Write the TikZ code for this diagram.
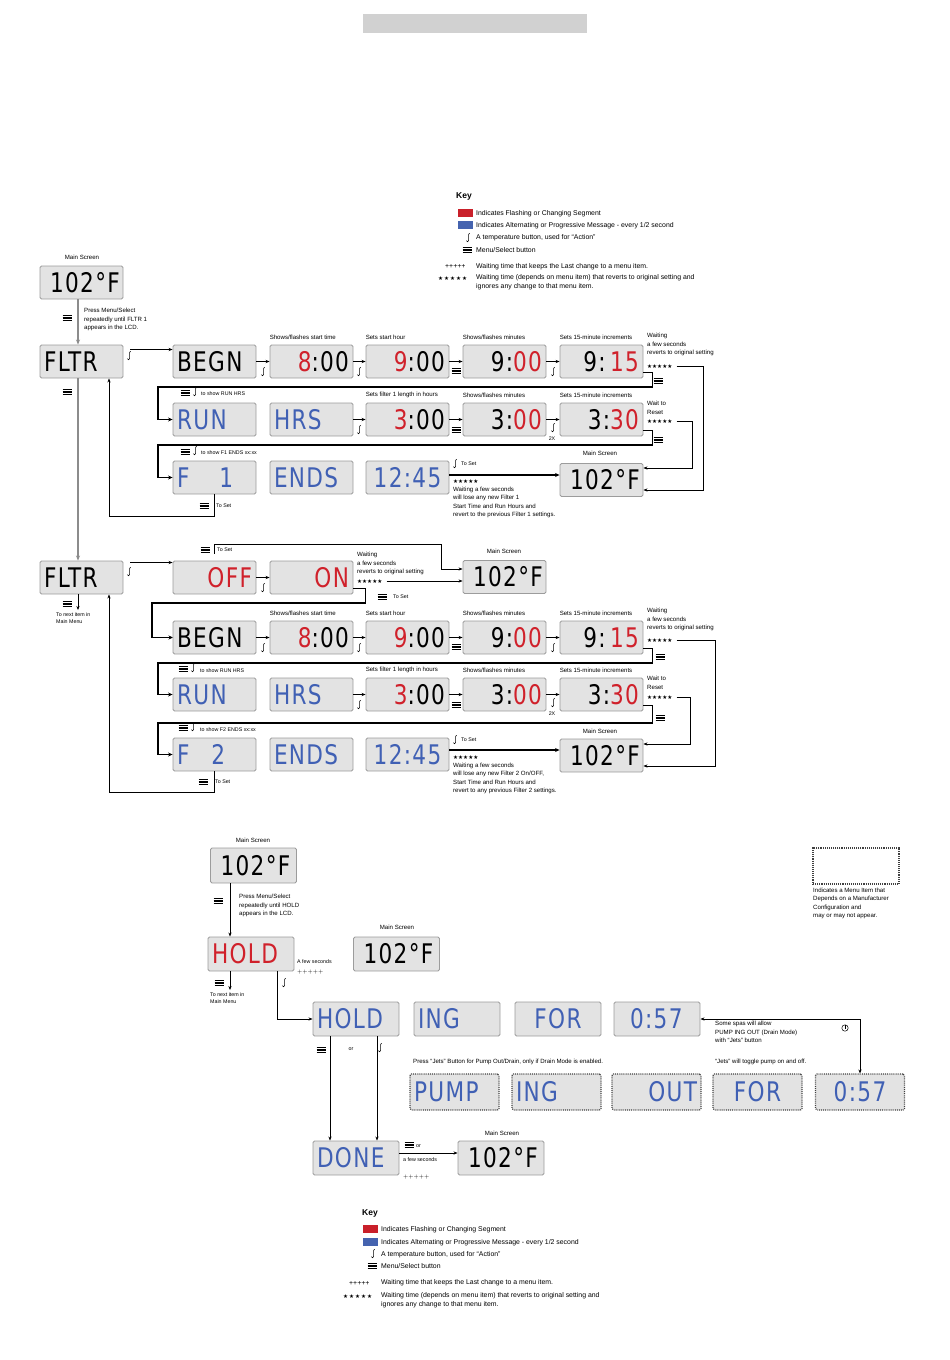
\documentclass[tikz,border=0pt]{standalone}
\usepackage{fontspec}
\usetikzlibrary{arrows.meta,calc}
\newfontfamily\tf{Liberation Sans}
\newfontfamily\symf{DejaVu Sans}
\newfontfamily\lcdf{DejaVu Sans}[LetterSpace=5, FakeStretch=0.8]
\definecolor{lred}{HTML}{D0212B}
\definecolor{lblue}{HTML}{4060B4}
\definecolor{lfill}{HTML}{E3E3E3}
\definecolor{ledge}{HTML}{9C9C9C}
\definecolor{kred}{HTML}{C9202A}
\definecolor{kblue}{HTML}{4563AF}
\newcommand\redseg[1]{\textcolor{lred}{#1}}
\newcommand\blueseg[1]{\textcolor{lblue}{#1}}
\newcommand\stars{{\symf ★★★★★}}
\newcommand\sstars{{\symf ★\,★\,★\,★\,★}}
\tikzset{
 lcd/.style={draw=ledge, fill=lfill, line width=0.9pt, rounded corners=1.5pt, minimum width=83pt, minimum height=33pt, inner sep=0pt, text width=75pt, font=\lcdf\fontsize{27}{27}\selectfont},
 lcdL/.style={lcd, align=left},
 lcdR/.style={lcd, align=right},
 lcdC/.style={lcd, align=center},
 hbox/.style={minimum width=86pt, minimum height=34pt, text width=78pt},
 dbox/.style={draw=black!75, densely dotted, line width=1.1pt, minimum width=89pt, minimum height=36pt, text width=81pt},
 lbl/.style={font=\tf\fontsize{6.1}{8.6}\selectfont, inner sep=0pt, align=left},
 slbl/.style={font=\tf\fontsize{5.3}{7}\selectfont, inner sep=0pt, align=left},
 ktxt/.style={font=\tf\fontsize{6.9}{9}\selectfont, inner sep=0pt, anchor=west, align=left},
 star/.style={font=\fontsize{5.6}{7}\selectfont, inner sep=0pt, anchor=west},
 arr/.style={-{Stealth[length=4pt,width=3.2pt]}, line width=0.6pt},
 rarr/.style={-{Stealth[length=4pt,width=3.2pt]}, line width=0.9pt},
 tarr/.style={-{Stealth[length=4.5pt,width=4pt]}, line width=1.8pt},
 garr/.style={-{Stealth[length=5pt,width=4pt]}, line width=1.6pt, draw=black!45, color=black!45},
 menuic/.pic={\foreach \yy in {-2.6,0,2.6}{\draw[line width=1.1pt] (-4.5,\yy) -- (4.5,\yy);}},
 tempic/.pic={\draw[line width=0.55pt] (1.8,-4.6) -- (0.6,-3.8) -- (0.6,2.6) arc[start angle=0,end angle=180,radius=1.1];},
 jetsic/.pic={\draw[line width=0.5pt] (0,0) circle (3.2); \draw[line width=0.5pt] (0,-3.2) -- (0,1);}
}
\begin{document}
\begin{tikzpicture}[x=1pt,y=-1pt]
\useasboundingbox (0,0) rectangle (950,1360);
\fill[black!18] (363,14) rectangle (587,33);

% ---------------- Key 1
\node[ktxt, font=\tf\bfseries\fontsize{8.5}{10}\selectfont] (key1) at (456,196) {Key};
\fill[kred] (458,209) rectangle (473,217);
\node[ktxt] (k1a) at (476,213.5) {Indicates Flashing or Changing Segment};
\fill[kblue] (458,221) rectangle (473,229);
\node[ktxt] (k1b) at (476,225.5) {Indicates Alternating or Progressive Message - every 1/2 second};
\pic at (468,238) {tempic};
\node[ktxt] (k1c) at (476,238) {A temperature button, used for “Action”};
\pic at (467,250) {menuic};
\node[ktxt] (k1d) at (476,250) {Menu/Select button};
\node[ktxt] (k1e) at (445,267) {+++++};
\node[ktxt] (k1f) at (476,267) {Waiting time that keeps the Last change to a menu item.};
\node[star] (k1g) at (438,278) {\sstars};
\node[ktxt, anchor=north west] (k1h) at (476,274) {Waiting time (depends on menu item) that reverts to original setting and\\ignores any change to that menu item.};

% ---------------- Filter 1
\node[lbl] (lms0) at (82,257) {Main Screen};
\node[lcdL] (main0) at (81.5,282.5) {\hspace*{6pt}102°F};
\node[lcdL] (fltr1) at (81.5,361.5) {FLTR};
\draw[garr] ($(main0.south)+(-3.5,0)$) -- ($(fltr1.north)+(-3.5,0)$);
\pic at (67,318) {menuic};
\node[lbl, anchor=north west] (pm1) at (84,308) {Press Menu/Select\\repeatedly until FLTR 1\\appears in the LCD.};
\pic at (129,356) {tempic};

\node[lcdL] (begn1) at (214.5,361.5) {BEGN};
\node[lcdR] (e1) at (311.5,361.5) {\redseg{8}:00\hspace*{9pt}};
\node[lcdR] (h1) at (407.5,361.5) {\redseg{9}:00\hspace*{9pt}};
\node[lcdR] (m1) at (504.5,361.5) {9:\redseg{00}\hspace*{9pt}};
\node[lcdR] (q1) at (601.5,361.5) {9:\,\redseg{15}\hspace*{9pt}};
\draw[arr] ($(fltr1.east)+(7,-12)$) -- ($(begn1.west)+(0,-12)$);
\draw[arr] (begn1.east) -- (e1.west);
\draw[arr] (e1.east) -- (h1.west);
\draw[arr] (h1.east) -- (m1.west);
\draw[arr] (m1.east) -- (q1.west);
\pic at (263,372) {tempic};
\pic at (359,372) {tempic};
\pic at (456,371) {menuic};
\pic at (553,372) {tempic};
\node[lbl, anchor=south west] at ($(e1.north west)+(0,-5)$) {Shows/flashes start time};
\node[lbl, anchor=south west] at ($(h1.north west)+(0,-5)$) {Sets start hour};
\node[lbl, anchor=south west] at ($(m1.north west)+(0,-5)$) {Shows/flashes minutes};
\node[lbl, anchor=south west] at ($(q1.north west)+(0,-5)$) {Sets 15-minute increments};
\node[lbl, anchor=north west] (w1) at (647,333) {Waiting\\a few seconds\\reverts to original setting};
\node[star] (st1) at (647,366) {\stars};

\node[lcdL] (run1) at (214.5,419.5) {\blueseg{RUN}};
\node[lcdL] (hrs1) at (311.5,419.5) {\blueseg{HRS}};
\node[lcdR] (l1) at (407.5,419.5) {\redseg{3}:00\hspace*{9pt}};
\node[lcdR] (lm1) at (504.5,419.5) {3:\redseg{00}\hspace*{9pt}};
\node[lcdR] (lq1) at (601.5,419.5) {3:\redseg{30}\hspace*{9pt}};
\draw[arr] (hrs1.east) -- (l1.west);
\draw[arr] (l1.east) -- (lm1.west);
\draw[arr] (lm1.east) -- (lq1.west);
\pic at (359,430) {tempic};
\pic at (456,430) {menuic};
\pic at (553,428) {tempic};
\node[slbl] at (552,439) {2X};
\node[lbl, anchor=south west] at ($(l1.north west)+(0,-5)$) {Sets filter 1 length in hours};
\node[lbl, anchor=south west] at ($(lm1.north west)+(0,-5)$) {Shows/flashes minutes};
\node[lbl, anchor=south west] at ($(lq1.north west)+(0,-5)$) {Sets 15-minute increments};
\node[lbl, anchor=north west] (w2) at (647,401) {Wait to\\Reset};
\node[star] (st2) at (647,421) {\stars};

\coordinate (jA) at (158,387);
\draw[tarr] ($(q1.east)+(0,11)$) -- ++(9,0) |- (jA) |- (run1.west);
\pic at (658,381) {menuic};
\pic at (185,393) {menuic};
\pic at (195,392) {tempic};
\node[slbl, anchor=west] at (201,394) {to show RUN HRS};

\node[lcdL] (f1) at (214.5,477.5) {\blueseg{F\hspace{30pt}1}};
\node[lcdL] (ends1) at (311.5,477.5) {\blueseg{ENDS}};
\node[lcdC] (t1) at (407.5,477.5) {\blueseg{12:45}};
\node[lbl] (lms1) at (600,453) {Main Screen};
\node[lcdL] (main1) at (601.5,480) {\hspace*{6pt}102°F};

\coordinate (jB) at (158,445);
\draw[tarr] ($(lq1.east)+(0,11)$) -- ++(9,0) |- (jB) |- (f1.west);
\pic at (658,440) {menuic};
\pic at (185,452) {menuic};
\pic at (195,451) {tempic};
\node[slbl, anchor=west] at (201,453) {to show F1 ENDS xx:xx};

\pic at (455,464) {tempic};
\node[slbl, anchor=west] at (461,464) {To Set};
\draw[tarr] ($(t1.east)+(0,-2.5)$) -- ($(main1.west)+(0,-5)$);
\node[star] (st5) at (453,481) {\stars};
\node[lbl, anchor=north west] at (453,486.5) {Waiting a few seconds\\will lose any new Filter 1\\Start Time and Run Hours and\\revert to the previous Filter 1 settings.};

\coordinate (c1) at (703,490);
\draw[arr] ($(st1.east)+(4,0)$) -| (c1) -- ($(main1.east)+(0,10)$);
\coordinate (c2) at (692,468);
\draw[arr] ($(st2.east)+(4,0)$) -| (c2) -- ($(main1.east)+(0,-12)$);

\pic at (204,506) {menuic};
\node[slbl, anchor=west] at (216,506) {To Set};
\draw[rarr] (f1.south) -- ++(0,22) -| ($(fltr1.south)+(27.5,0)$);

% ---------------- Filter 2
\node[lcdL] (fltr2) at (81.5,577.5) {FLTR};
\draw[garr] ($(fltr1.south)+(-3.5,0)$) -- ($(fltr2.north)+(-3.5,0)$);
\pic at (67,392) {menuic};
\pic at (129,572) {tempic};

\node[lcdR] (off) at (214.5,577.5) {\redseg{OFF}\hspace*{9pt}};
\node[lcdR] (on) at (311.5,577.5) {\redseg{ON}\hspace*{9pt}};
\draw[arr] ($(fltr2.east)+(7,-15)$) -- ($(off.west)+(0,-15)$);
\draw[arr] (off.east) -- (on.west);
\pic at (263,588) {tempic};
\node[lbl, anchor=north west] (w0) at (357,552) {Waiting\\a few seconds\\reverts to original setting};
\node[star] (st0) at (357,581) {\stars};
\node[lbl] (lms2) at (504,551) {Main Screen};
\node[lcdL] (main2) at (504.5,577) {\hspace*{6pt}102°F};
\pic at (205,550) {menuic};
\node[slbl, anchor=west] at (217,550) {To Set};
\coordinate (c3) at (441,544);
\draw[arr] ($(off.north)+(0,-7)$) |- (c3) |- ($(main2.west)+(0,-8)$);
\draw[arr] ($(st0.east)+(4,0)$) -- (st0.east -| main2.west);

\coordinate (jC) at (152,603);
\draw[tarr] ($(on.east)+(0,11)$) -- ++(12,0) |- (jC) |- ($(jC)+(21,34.5)$);
\pic at (382,597) {menuic};
\node[slbl, anchor=west] at (393,597) {To Set};

\node[lcdL] (begn2) at (214.5,637.5) {BEGN};
\node[lcdR] (e2) at (311.5,637.5) {\redseg{8}:00\hspace*{9pt}};
\node[lcdR] (h2) at (407.5,637.5) {\redseg{9}:00\hspace*{9pt}};
\node[lcdR] (m2) at (504.5,637.5) {9:\redseg{00}\hspace*{9pt}};
\node[lcdR] (q2) at (601.5,637.5) {9:\,\redseg{15}\hspace*{9pt}};
\draw[arr] (begn2.east) -- (e2.west);
\draw[arr] (e2.east) -- (h2.west);
\draw[arr] (h2.east) -- (m2.west);
\draw[arr] (m2.east) -- (q2.west);
\pic at (263,648) {tempic};
\pic at (359,648) {tempic};
\pic at (456,647) {menuic};
\pic at (553,648) {tempic};
\node[lbl, anchor=south west] at ($(e2.north west)+(0,-5)$) {Shows/flashes start time};
\node[lbl, anchor=south west] at ($(h2.north west)+(0,-5)$) {Sets start hour};
\node[lbl, anchor=south west] at ($(m2.north west)+(0,-5)$) {Shows/flashes minutes};
\node[lbl, anchor=south west] at ($(q2.north west)+(0,-5)$) {Sets 15-minute increments};
\node[lbl, anchor=north west] (w3) at (647,608) {Waiting\\a few seconds\\reverts to original setting};
\node[star] (st3) at (647,640) {\stars};

\node[lcdL] (run2) at (214.5,694.5) {\blueseg{RUN}};
\node[lcdL] (hrs2) at (311.5,694.5) {\blueseg{HRS}};
\node[lcdR] (l2) at (407.5,694.5) {\redseg{3}:00\hspace*{9pt}};
\node[lcdR] (lm2) at (504.5,694.5) {3:\redseg{00}\hspace*{9pt}};
\node[lcdR] (lq2) at (601.5,694.5) {3:\redseg{30}\hspace*{9pt}};
\draw[arr] (hrs2.east) -- (l2.west);
\draw[arr] (l2.east) -- (lm2.west);
\draw[arr] (lm2.east) -- (lq2.west);
\pic at (359,705) {tempic};
\pic at (456,705) {menuic};
\pic at (553,703) {tempic};
\node[slbl] at (552,714) {2X};
\node[lbl, anchor=south west] at ($(l2.north west)+(0,-5)$) {Sets filter 1 length in hours};
\node[lbl, anchor=south west] at ($(lm2.north west)+(0,-5)$) {Shows/flashes minutes};
\node[lbl, anchor=south west] at ($(lq2.north west)+(0,-5)$) {Sets 15-minute increments};
\node[lbl, anchor=north west] (w4) at (647,676) {Wait to\\Reset};
\node[star] (st4) at (647,697) {\stars};

\coordinate (jD) at (158,663);
\draw[tarr] ($(q2.east)+(0,11)$) -- ++(9,0) |- (jD) |- (run2.west);
\pic at (660,657) {menuic};
\pic at (183,669) {menuic};
\pic at (193,668) {tempic};
\node[slbl, anchor=west] at (200,671) {to show RUN HRS};

\node[lcdL] (f2) at (214.5,754.5) {\blueseg{F\hspace{22pt}2}};
\node[lcdL] (ends2) at (311.5,754.5) {\blueseg{ENDS}};
\node[lcdC] (t2) at (407.5,754.5) {\blueseg{12:45}};
\node[lbl] (lms3) at (600,731) {Main Screen};
\node[lcdL] (main3) at (601.5,755.5) {\hspace*{6pt}102°F};

\coordinate (jE) at (158,723);
\draw[tarr] ($(lq2.east)+(0,11)$) -- ++(9,0) |- (jE) |- (f2.west);
\pic at (660,718) {menuic};
\pic at (183,728) {menuic};
\pic at (193,727) {tempic};
\node[slbl, anchor=west] at (200,730) {to show F2 ENDS xx:xx};

\pic at (455,740) {tempic};
\node[slbl, anchor=west] at (461,740) {To Set};
\draw[tarr] ($(t2.east)+(0,-4.5)$) -- ($(main3.west)+(0,-5.5)$);
\node[star] (st6) at (453,757) {\stars};
\node[lbl, anchor=north west] at (453,762.5) {Waiting a few seconds\\will lose any new Filter 2 On/OFF,\\Start Time and Run Hours and\\revert to any previous Filter 2 settings.};

\coordinate (c4) at (715,766);
\draw[arr] ($(st3.east)+(4,0)$) -| (c4) -- ($(main3.east)+(0,10.5)$);
\coordinate (c5) at (690,744);
\draw[arr] ($(st4.east)+(4,0)$) -| (c5) -- ($(main3.east)+(0,-11.5)$);

\pic at (203,782) {menuic};
\node[slbl, anchor=west] at (215,782) {To Set};
\draw[rarr] (f2.south) -- ++(0,21) -| ($(fltr2.south)+(27.5,0)$);

\pic at (67,604) {menuic};
\coordinate (nx1) at (78,610);
\draw[arr] ($(fltr2.south)+(-3.5,0)$) -- (nx1);
\node[slbl, anchor=north west] at (56,612) {To next item in\\Main Menu};

% ---------------- Hold
\node[lbl] (lmsh) at (253,840) {Main Screen};
\node[lcdL, hbox, minimum height=35pt] (mainH) at (253.5,865.5) {\hspace*{6pt}102°F};
\node[lcdL, hbox] (holdR) at (251,954) {\redseg{HOLD}};
\draw[rarr] ($(mainH.south)+(-23.5,0)$) -- ($(holdR.north)+(-21,0)$);
\pic at (218,901) {menuic};
\node[lbl, anchor=north west] at (239,894) {Press Menu/Select\\repeatedly until HOLD\\appears in the LCD.};
\node[slbl, anchor=west] at (297,962) {A few seconds};
\node[star] at (297,972) {+++++};
\node[lbl] (lmsh2) at (397,927) {Main Screen};
\node[lcdL, hbox] (mainH2) at (396.5,954) {\hspace*{6pt}102°F};

\pic at (219,983) {menuic};
\coordinate (nx2) at (230,990);
\draw[arr] ($(holdR.south)+(-21,0)$) -- (nx2);
\node[slbl, anchor=north west] at (210,992) {To next item in\\Main Menu};
\pic at (284,983) {tempic};

\node[lcdL, hbox] (hold2) at (356,1019) {\blueseg{HOLD}};
\node[lcdL, hbox] (ing) at (457,1019) {\blueseg{ING}};
\node[lcdC, hbox] (for) at (558,1019) {\blueseg{FOR}};
\node[lcdL, hbox] (t057) at (657,1019) {\blueseg{\hspace*{12pt}0:57}};
\draw[rarr] ($(holdR.south)+(26,0)$) |- (hold2.west);

\node[lcdL, dbox] (pump) at (454.5,1092) {\blueseg{PUMP}};
\node[lcdL, dbox] (ing2) at (556.5,1092) {\blueseg{ING}};
\node[lcdR, dbox] (out) at (656.5,1092) {\blueseg{OUT}\hspace*{4pt}};
\node[lcdC, dbox] (for2) at (757.5,1092) {\blueseg{FOR}};
\node[lcdC, dbox] (t0572) at (860,1092) {\blueseg{0:57}};
\draw[{Stealth[length=4pt,width=3.2pt]}-{Stealth[length=4pt,width=3.2pt]}, line width=0.9pt] (t057.east) -| (t0572.north);
\pic at (845,1028) {jetsic};
\node[lbl, anchor=north west] at (715,1021) {Some spas will allow\\PUMP ING OUT (Drain Mode)\\with “Jets” button};
\node[lbl, anchor=west] at (715,1062) {“Jets” will toggle pump on and off.};
\node[lbl, anchor=west] at (413,1062) {Press “Jets” Button for Pump Out/Drain, only if Drain Mode is enabled.};

\node[lcdL, hbox] (done) at (356,1158) {\blueseg{DONE}};
\pic at (321,1050) {menuic};
\node[slbl] at (351,1049) {or};
\pic at (380,1048) {tempic};
\draw[rarr] ($(hold2.south)+(-26,0)$) -- ($(done.north)+(-26,0)$);
\draw[rarr] ($(hold2.south)+(21,0)$) -- ($(done.north)+(21,0)$);

\node[lbl] (lmsh3) at (502,1133) {Main Screen};
\node[lcdL, hbox] (mainH3) at (501,1158) {\hspace*{6pt}102°F};
\draw[rarr] ($(done.east)+(0,-5)$) -- ($(mainH3.west)+(0,-5)$);
\pic at (409,1145) {menuic};
\node[slbl, anchor=west] at (416,1146) {or};
\node[slbl, anchor=west] at (403,1160) {a few seconds};
\node[star] at (403,1177) {+++++};

% dashed key
\node[draw=black!75, densely dotted, line width=1.1pt, minimum width=86pt, minimum height=36pt] (dkey) at (856,866) {};
\node[lbl, anchor=north west] at (813,887.5) {Indicates a Menu Item that\\Depends on a Manufacturer\\Configuration and\\may or may not appear.};

% ---------------- Key 2
\node[ktxt, font=\tf\bfseries\fontsize{8.5}{10}\selectfont] (key2) at (362,1213) {Key};
\fill[kred] (363,1225) rectangle (378,1233);
\node[ktxt] at (381,1230) {Indicates Flashing or Changing Segment};
\fill[kblue] (363,1238) rectangle (378,1246);
\node[ktxt] at (381,1242.5) {Indicates Alternating or Progressive Message - every 1/2 second};
\pic at (373,1254) {tempic};
\node[ktxt] at (381,1255) {A temperature button, used for “Action”};
\pic at (372,1266) {menuic};
\node[ktxt] at (381,1266) {Menu/Select button};
\node[ktxt] at (349,1283) {+++++};
\node[ktxt] at (381,1283) {Waiting time that keeps the Last change to a menu item.};
\node[star] at (343,1296) {\sstars};
\node[ktxt, anchor=north west] at (381,1292) {Waiting time (depends on menu item) that reverts to original setting and\\ignores any change to that menu item.};
\end{tikzpicture}
\end{document}
